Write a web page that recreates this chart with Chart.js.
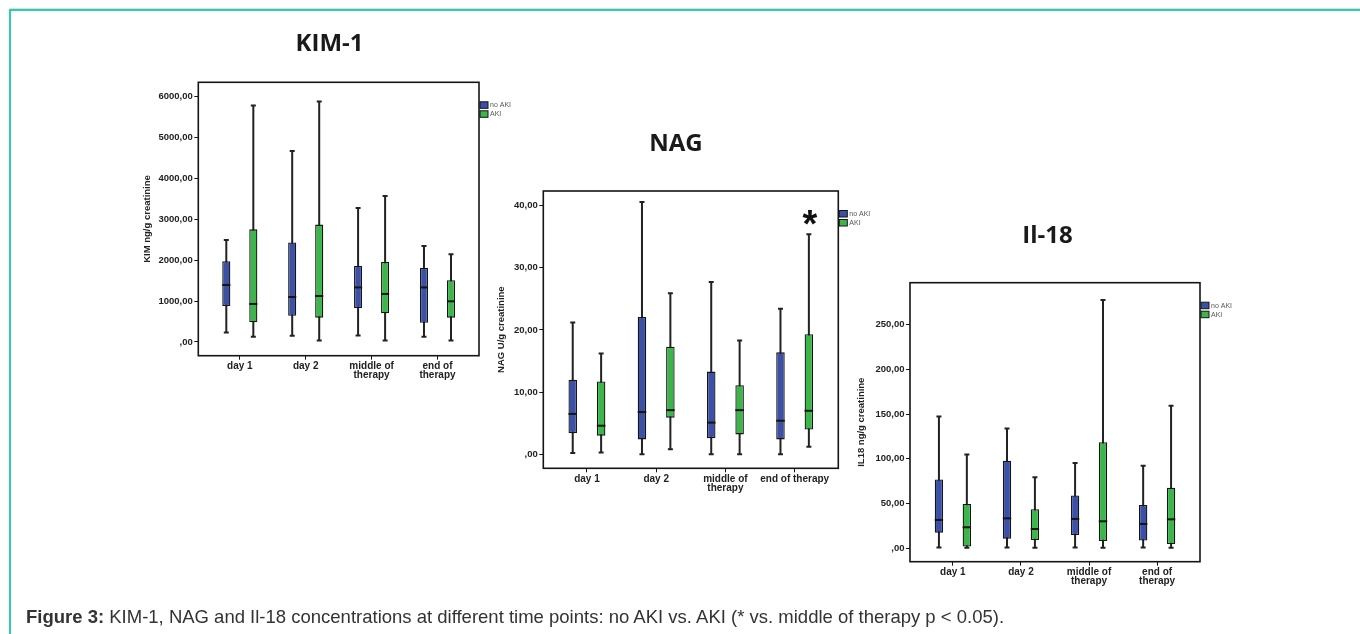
<!DOCTYPE html>
<html><head><meta charset="utf-8">
<script src="https://cdn.jsdelivr.net/npm/chart.js@4.4.1/dist/chart.umd.min.js"></script>
<style>
html,body{margin:0;padding:0;background:#fff;width:1360px;height:634px;overflow:hidden;}
#shade{position:absolute;left:10px;top:8px;right:0;height:1px;background:#dcdcdc;}
#frame{position:absolute;left:9px;top:9px;right:-5px;bottom:-5px;border-top:2px solid #2ecdb0;border-left:2px solid #2ecdb0;}
canvas{position:absolute;left:0;top:0;}
#caption{position:absolute;left:26px;top:608px;font:18.5px/18.5px "Liberation Sans",Arial,sans-serif;color:#333;white-space:nowrap;}
#caption b{color:#333;}
</style></head>
<body>
<div id="shade"></div>
<div id="frame"></div>
<canvas id="kim" width="1360" height="634"></canvas>
<canvas id="nag" width="1360" height="634"></canvas>
<canvas id="il" width="1360" height="634"></canvas>
<div id="caption"><b>Figure 3:</b> KIM-1, NAG and Il-18 concentrations at different time points: no AKI vs. AKI (* vs. middle of therapy p &lt; 0.05).</div>
<script>
// ---------- categories / labels ----------
const categories = ['day 1', 'day 2', 'middle of therapy', 'end of therapy'];
const seriesNames = ['no AKI', 'AKI'];
const kimXLabels = ['day 1', 'day 2', ['middle of', 'therapy'], ['end of', 'therapy']];
const nagXLabels = ['day 1', 'day 2', ['middle of', 'therapy'], 'end of therapy'];
const ilXLabels  = ['day 1', 'day 2', ['middle of', 'therapy'], ['end of', 'therapy']];

// ---------- y tick values ----------
const kimTicks = [0, 1000, 2000, 3000, 4000, 5000, 6000];
const nagTicks = [0, 10, 20, 30, 40];
const ilTicks  = [0, 50, 100, 150, 200, 250];

// ---------- KIM-1 (ng/g creatinine) ----------
const kimNoAkiMin = [230, 150, 160, 130];
const kimNoAkiQ1  = [880, 640, 830, 470];
const kimNoAkiMed = [1395, 1100, 1335, 1335];
const kimNoAkiQ3  = [1975, 2435, 1860, 1810];
const kimNoAkiMax = [2495, 4670, 3275, 2350];
const kimAkiMin = [130, 35, 35, 35];
const kimAkiQ1  = [480, 595, 700, 595];
const kimAkiMed = [930, 1125, 1175, 995];
const kimAkiQ3  = [2755, 2870, 1955, 1510];
const kimAkiMax = [5780, 5880, 3570, 2145];

// ---------- NAG (U/g creatinine) ----------
const nagNoAkiMin = [0.2, 0, 0, 0];
const nagNoAkiQ1  = [3.4, 2.4, 2.6, 2.4];
const nagNoAkiMed = [6.5, 6.8, 5.1, 5.4];
const nagNoAkiQ3  = [12.0, 22.1, 13.3, 16.4];
const nagNoAkiMax = [21.2, 40.6, 27.7, 23.4];
const nagAkiMin = [0.3, 0.8, 0, 1.2];
const nagAkiQ1  = [3.0, 5.9, 3.2, 4.0];
const nagAkiMed = [4.6, 7.1, 7.1, 7.0];
const nagAkiQ3  = [11.7, 17.3, 11.1, 19.3];
const nagAkiMax = [16.2, 25.9, 18.3, 35.4];
const nagStarIndex = 3;     // "end of therapy", AKI
const nagStarValue = 38.2;

// ---------- IL-18 (ng/g creatinine) ----------
const ilNoAkiMin = [1, 1, 1, 1];
const ilNoAkiQ1  = [17.5, 10.8, 14.9, 8.6];
const ilNoAkiMed = [31.7, 33.5, 32.8, 27.2];
const ilNoAkiQ3  = [77, 98, 59, 48.4];
const ilNoAkiMax = [147.5, 134, 95.4, 92.4];
const ilAkiMin = [0.7, 0.7, 0.7, 0.7];
const ilAkiQ1  = [1.9, 9.3, 8.2, 4.8];
const ilAkiMed = [23.5, 21.6, 30.2, 32.4];
const ilAkiQ3  = [49.6, 43.6, 118.5, 67.8];
const ilAkiMax = [105, 79.4, 277.6, 159.5];

// ---------- styles ----------
const BLUE = '#3b50a6';
const GREEN = '#3cb54b';
const INK = '#151515';
const FONT = '"Liberation Sans", Arial, sans-serif';

function fmt(v) {
  return v === 0 ? ',00' : v.toFixed(2).replace('.', ',');
}

function boxDataset(name, color, q1, q3, mn, med, mx) {
  return {
    label: name,
    data: q1.map((v, i) => ({ x: i + 1, y: [v, q3[i]] })),
    whiskerLow: mn, median: med, whiskerHigh: mx,
    backgroundColor: color,
    borderColor: INK,
    borderWidth: 1.3,
    borderSkipped: false,
    categoryPercentage: 0.82,
    barPercentage: 0.3
  };
}

const boxPlugin = {
  id: 'boxplot',
  beforeDatasetsDraw(chart) {
    const ctx = chart.ctx, ys = chart.scales.y;
    ctx.save();
    ctx.strokeStyle = '#222';
    ctx.lineWidth = 2;
    chart.data.datasets.forEach((ds, di) => {
      chart.getDatasetMeta(di).data.forEach((el, j) => {
        const x = el.x;
        const lo = ys.getPixelForValue(ds.whiskerLow[j]);
        const hi = ys.getPixelForValue(ds.whiskerHigh[j]);
        ctx.beginPath();
        ctx.moveTo(x, lo); ctx.lineTo(x, hi);
        ctx.moveTo(x - 2.5, lo); ctx.lineTo(x + 2.5, lo);
        ctx.moveTo(x - 2.5, hi); ctx.lineTo(x + 2.5, hi);
        ctx.stroke();
      });
    });
    ctx.restore();
  },
  afterDatasetsDraw(chart, args, opts) {
    const ctx = chart.ctx, ys = chart.scales.y, ca = chart.chartArea;
    ctx.save();
    // medians
    ctx.strokeStyle = INK;
    ctx.lineWidth = 2;
    chart.data.datasets.forEach((ds, di) => {
      chart.getDatasetMeta(di).data.forEach((el, j) => {
        const y = ys.getPixelForValue(ds.median[j]);
        const w = el.width / 2;
        ctx.beginPath();
        ctx.moveTo(el.x - w, y); ctx.lineTo(el.x + w, y);
        ctx.stroke();
      });
    });
    // plot frame
    ctx.lineWidth = 1.6;
    ctx.strokeStyle = INK;
    ctx.strokeRect(ca.left, ca.top, ca.right - ca.left, ca.bottom - ca.top);
    // legend
    const lx = ca.right + 1, ly = ca.top + 19.5;
    chart.data.datasets.forEach((ds, di) => {
      const y = ly + di * 9;
      ctx.fillStyle = ds.backgroundColor;
      ctx.fillRect(lx, y, 8, 6.5);
      ctx.lineWidth = 1;
      ctx.strokeStyle = INK;
      ctx.strokeRect(lx, y, 8, 6.5);
      ctx.fillStyle = '#555';
      ctx.font = '7px ' + FONT;
      ctx.textAlign = 'left';
      ctx.textBaseline = 'middle';
      ctx.fillText(ds.label, lx + 10, y + 3.5);
    });
    // title
    ctx.fillStyle = '#1a1a1a';
    ctx.font = 'bold 24px "Open Sans", ' + FONT;
    ctx.textAlign = 'center';
    ctx.textBaseline = 'middle';
    ctx.fillText(opts.title, opts.titleX, opts.titleY);
    // significance star
    if (opts.star) {
      const el = chart.getDatasetMeta(1).data[opts.star.index];
      ctx.font = 'bold 38px ' + FONT;
      ctx.textBaseline = 'alphabetic';
      ctx.fillStyle = '#111';
      ctx.fillText('*', el.x + 1, ys.getPixelForValue(opts.star.value) + 20);
    }
    ctx.restore();
  }
};

function makePanel(id, p) {
  const yw = p.yw, xh = 34;
  new Chart(document.getElementById(id), {
    type: 'bar',
    data: {
      datasets: [
        boxDataset(seriesNames[0], BLUE, p.noAki[1], p.noAki[3], p.noAki[0], p.noAki[2], p.noAki[4]),
        boxDataset(seriesNames[1], GREEN, p.aki[1], p.aki[3], p.aki[0], p.aki[2], p.aki[4])
      ]
    },
    plugins: [boxPlugin],
    options: {
      responsive: false,
      animation: false,
      events: [],
      layout: { padding: { left: p.l - yw, top: p.t, right: 1360 - p.r, bottom: 634 - p.b - xh } },
      plugins: {
        legend: { display: false },
        tooltip: { enabled: false },
        title: { display: false },
        boxplot: { title: p.title, titleX: p.titleX, titleY: p.titleY, star: p.star }
      },
      scales: {
        x: {
          type: 'linear',
          offset: false,
          min: 1 - 0.63, max: categories.length + 0.63,
          afterBuildTicks: s => { s.ticks = categories.map((c, i) => ({ value: i + 1 })); },
          afterFit: s => { s.height = xh; },
          grid: { offset: false, drawOnChartArea: false, drawTicks: true, tickLength: 4, color: INK, lineWidth: 1 },
          border: { display: false },
          ticks: {
            autoSkip: false, maxRotation: 0, minRotation: 0, padding: 2.5,
            color: '#222', font: { family: FONT, size: 10, weight: 'bold', lineHeight: 0.9 },
            callback: v => p.xLabels[Math.round(v) - 1]
          }
        },
        y: {
          type: 'linear',
          min: p.yMin, max: p.yMax,
          afterBuildTicks: s => { s.ticks = p.yTicks.map(v => ({ value: v })); },
          afterFit: s => { s.width = yw; },
          grid: { drawOnChartArea: false, drawTicks: true, tickLength: 4, color: INK, lineWidth: 1 },
          border: { display: false },
          ticks: {
            padding: 1.5, color: '#222',
            font: { family: FONT, size: 9.5, weight: 'bold' },
            callback: v => fmt(v)
          },
          title: {
            display: true, text: p.yTitle, color: '#222',
            font: { family: FONT, size: 9.5, weight: 'bold' }
          }
        }
      }
    }
  });
}

makePanel('kim', {
  l: 198.3, t: 82.3, r: 479, b: 355.7, yw: 61,
  yMin: -335, yMax: 6350, yTicks: kimTicks, yTitle: 'KIM ng/g creatinine',
  xLabels: kimXLabels,
  noAki: [kimNoAkiMin, kimNoAkiQ1, kimNoAkiMed, kimNoAkiQ3, kimNoAkiMax],
  aki: [kimAkiMin, kimAkiQ1, kimAkiMed, kimAkiQ3, kimAkiMax],
  title: 'KIM-1', titleX: 329.5, titleY: 44
});
makePanel('nag', {
  l: 543.3, t: 191, r: 838.3, b: 468.3, yw: 52,
  yMin: -2.25, yMax: 42.35, yTicks: nagTicks, yTitle: 'NAG U/g creatinine',
  xLabels: nagXLabels,
  noAki: [nagNoAkiMin, nagNoAkiQ1, nagNoAkiMed, nagNoAkiQ3, nagNoAkiMax],
  aki: [nagAkiMin, nagAkiQ1, nagAkiMed, nagAkiQ3, nagAkiMax],
  title: 'NAG', titleX: 676, titleY: 144,
  star: { index: nagStarIndex, value: nagStarValue }
});
makePanel('il', {
  l: 910, t: 282.7, r: 1200, b: 561.7, yw: 58.7,
  yMin: -15, yMax: 297, yTicks: ilTicks, yTitle: 'IL18 ng/g creatinine',
  xLabels: ilXLabels,
  noAki: [ilNoAkiMin, ilNoAkiQ1, ilNoAkiMed, ilNoAkiQ3, ilNoAkiMax],
  aki: [ilAkiMin, ilAkiQ1, ilAkiMed, ilAkiQ3, ilAkiMax],
  title: 'Il-18', titleX: 1047.5, titleY: 236
});
</script>
</body></html>
